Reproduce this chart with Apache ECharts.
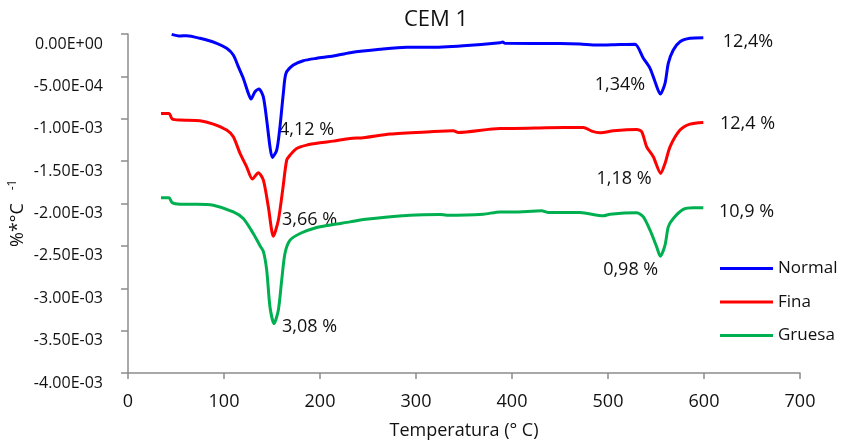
<!DOCTYPE html>
<html>
<head>
<meta charset="utf-8">
<script src="https://cdn.jsdelivr.net/npm/echarts@6/dist/echarts.min.js"></script>
<style>
  html, body { margin: 0; padding: 0; background: #fff; }
  #chart { width: 842px; height: 440px; }
</style>
</head>
<body>
<div id="chart"></div>
<script>
// DTG curves for CEM 1: temperature (°C) and rate (%*°C^-1)
const normalT = [45.5, 54.2, 61.1, 75, 92.4, 102.8, 109.7, 114.9, 120.1, 125.3, 128.1, 132.3, 136.5, 140.9, 144.5, 147.9, 150.3, 154.9, 158.3, 161.8, 164.6, 172.2, 182.6, 196.6, 213.9, 231.3, 262.5, 290.3, 314.6, 349.3, 387.5, 390.3, 392.7, 450, 470.8, 488.5, 512.5, 528.1, 536.8, 543.8, 549, 554.5, 559.4, 562.8, 568, 575, 585.4, 599.3];
const normalV = [-0.004e-3, -0.024e-3, -0.020e-3, -0.051e-3, -0.110e-3, -0.169e-3, -0.248e-3, -0.386e-3, -0.523e-3, -0.700e-3, -0.768e-3, -0.681e-3, -0.650e-3, -0.740e-3, -1.016e-3, -1.331e-3, -1.456e-3, -1.370e-3, -1.095e-3, -0.700e-3, -0.464e-3, -0.366e-3, -0.315e-3, -0.287e-3, -0.260e-3, -0.221e-3, -0.181e-3, -0.157e-3, -0.157e-3, -0.138e-3, -0.103e-3, -0.094e-3, -0.110e-3, -0.112e-3, -0.118e-3, -0.130e-3, -0.124e-3, -0.122e-3, -0.287e-3, -0.405e-3, -0.563e-3, -0.709e-3, -0.582e-3, -0.346e-3, -0.189e-3, -0.091e-3, -0.051e-3, -0.044e-3];

const finaT = [34.4, 42.7, 46.1, 54.2, 75, 88.9, 102.8, 109.7, 116.7, 123.6, 129.5, 135.7, 141, 146.2, 151.4, 156.6, 161.1, 165.3, 168.8, 175.7, 186.1, 200, 213.9, 231.3, 245.1, 272.9, 314.6, 338.9, 344.1, 387.5, 401.4, 436.1, 474.3, 483, 491.7, 505.6, 529.9, 535.1, 540.3, 547.2, 554.9, 559.4, 564.6, 575, 585.4, 599.3];
const finaV = [-0.937e-3, -0.937e-3, -1.004e-3, -1.016e-3, -1.023e-3, -1.063e-3, -1.134e-3, -1.213e-3, -1.409e-3, -1.567e-3, -1.712e-3, -1.638e-3, -1.724e-3, -2.040e-3, -2.386e-3, -2.197e-3, -1.842e-3, -1.488e-3, -1.429e-3, -1.350e-3, -1.311e-3, -1.284e-3, -1.264e-3, -1.232e-3, -1.225e-3, -1.181e-3, -1.154e-3, -1.142e-3, -1.161e-3, -1.114e-3, -1.114e-3, -1.107e-3, -1.102e-3, -1.146e-3, -1.166e-3, -1.142e-3, -1.126e-3, -1.154e-3, -1.331e-3, -1.449e-3, -1.645e-3, -1.527e-3, -1.331e-3, -1.134e-3, -1.063e-3, -1.043e-3];

const gruesaT = [34.4, 42.7, 46.1, 54.2, 71.6, 88.9, 109.7, 120.1, 130.5, 137.5, 141, 144.5, 147.9, 152.1, 156.6, 160.1, 163.5, 168.8, 179.2, 196.6, 213.9, 231.3, 245.1, 293.8, 325, 332, 370.1, 387.5, 401.4, 430.9, 437.8, 470.8, 495.1, 502.1, 529.9, 536.8, 543.8, 550.7, 554.5, 559.4, 562.8, 568, 578.4, 588.9, 599.3];
const gruesaV = [-1.933e-3, -1.933e-3, -1.992e-3, -2.008e-3, -2.008e-3, -2.020e-3, -2.099e-3, -2.177e-3, -2.354e-3, -2.498e-3, -2.565e-3, -2.787e-3, -3.221e-3, -3.417e-3, -3.260e-3, -2.905e-3, -2.590e-3, -2.433e-3, -2.354e-3, -2.283e-3, -2.247e-3, -2.217e-3, -2.188e-3, -2.138e-3, -2.129e-3, -2.138e-3, -2.126e-3, -2.099e-3, -2.099e-3, -2.087e-3, -2.106e-3, -2.106e-3, -2.146e-3, -2.126e-3, -2.110e-3, -2.158e-3, -2.315e-3, -2.512e-3, -2.622e-3, -2.492e-3, -2.276e-3, -2.177e-3, -2.070e-3, -2.051e-3, -2.051e-3];

const seriesNames = ['Normal', 'Fina', 'Gruesa'];
const seriesColors = ['#0000FF', '#FF0000', '#00B050'];
const yTickLabels = ['0.00E+00', '-5.00E-04', '-1.00E-03', '-1.50E-03', '-2.00E-03', '-2.50E-03', '-3.00E-03', '-3.50E-03', '-4.00E-03'];

// Mass-loss annotations
const annotations = [
  { text: '4,12 %', x: 306.5, y: 130 },
  { text: '3,66 %', x: 309.5, y: 220 },
  { text: '3,08 %', x: 309.5, y: 327 },
  { text: '12,4%', x: 748, y: 42 },
  { text: '1,34%', x: 620, y: 85.3 },
  { text: '12,4 %', x: 747.5, y: 124 },
  { text: '1,18 %', x: 624, y: 179 },
  { text: '10,9 %', x: 746.5, y: 211.7 },
  { text: '0,98 %', x: 630.7, y: 270.3 }
];

const FONT = "'Open Sans', 'Noto Sans', sans-serif";
const axisGray = '#8c8c8c';

function pairs(xs, ys) { return xs.map((x, i) => [x, ys[i]]); }

const seriesData = [pairs(normalT, normalV), pairs(finaT, finaV), pairs(gruesaT, gruesaV)];

function centeredText(text, x, y, size, rotation) {
  return {
    type: 'text', x, y, rotation: rotation || 0, silent: true,
    style: { text, fill: '#111', font: size + 'px ' + FONT, textAlign: 'center', textVerticalAlign: 'middle', align: 'center', verticalAlign: 'middle' }
  };
}

const graphics = annotations.map(a => centeredText(a.text, a.x, a.y, 18));
graphics.push(centeredText('CEM 1', 436, 20, 22));
graphics.push(centeredText('%*°C', 18, 225, 18, Math.PI / 2));
graphics.push(centeredText('-1', 13, 185, 12, Math.PI / 2));

const chart = echarts.init(document.getElementById('chart'), null, { renderer: 'canvas' });
chart.setOption({
  animation: false,
  backgroundColor: '#fff',
  grid: { left: 128, right: 42, top: 34, bottom: 67, containLabel: false, outerBoundsMode: 'none' },
  legend: {
    data: seriesNames,
    orient: 'vertical',
    left: 720, top: 259.5, padding: 0,
    icon: 'rect',
    itemWidth: 53, itemHeight: 3, itemGap: 15.5,
    textStyle: { fontFamily: FONT, fontSize: 17, color: '#111', lineHeight: 18 }
  },
  xAxis: {
    type: 'value', min: 0, max: 700, interval: 100,
    name: 'Temperatura (° C)', nameLocation: 'middle', nameGap: 49,
    nameTextStyle: { fontFamily: FONT, fontSize: 18, color: '#111' },
    axisLine: { show: true, onZero: false, lineStyle: { color: axisGray, width: 1.5 } },
    axisTick: { show: true, length: 6, lineStyle: { color: axisGray, width: 1.5 } },
    axisLabel: { fontFamily: FONT, fontSize: 18, color: '#111', margin: 20 },
    splitLine: { show: false }
  },
  yAxis: {
    type: 'value', min: -0.004, max: 0, interval: 0.0005,
    axisLine: { show: true, onZero: false, lineStyle: { color: axisGray, width: 1.5 } },
    axisTick: { show: true, length: 7, lineStyle: { color: axisGray, width: 1.5 } },
    axisLabel: {
      fontFamily: FONT, fontSize: 16, color: '#111', margin: 25,
      verticalAlign: 'top', padding: [2, 0, 0, 0],
      formatter: v => yTickLabels[Math.round(-v / 0.0005)]
    },
    splitLine: { show: false }
  },
  series: seriesNames.map((name, i) => ({
    name, type: 'line', data: seriesData[i],
    symbol: 'none', smooth: 0.25,
    lineStyle: { color: seriesColors[i], width: 3 },
    itemStyle: { color: seriesColors[i] }
  })),
  graphic: graphics
});
</script>
</body>
</html>
